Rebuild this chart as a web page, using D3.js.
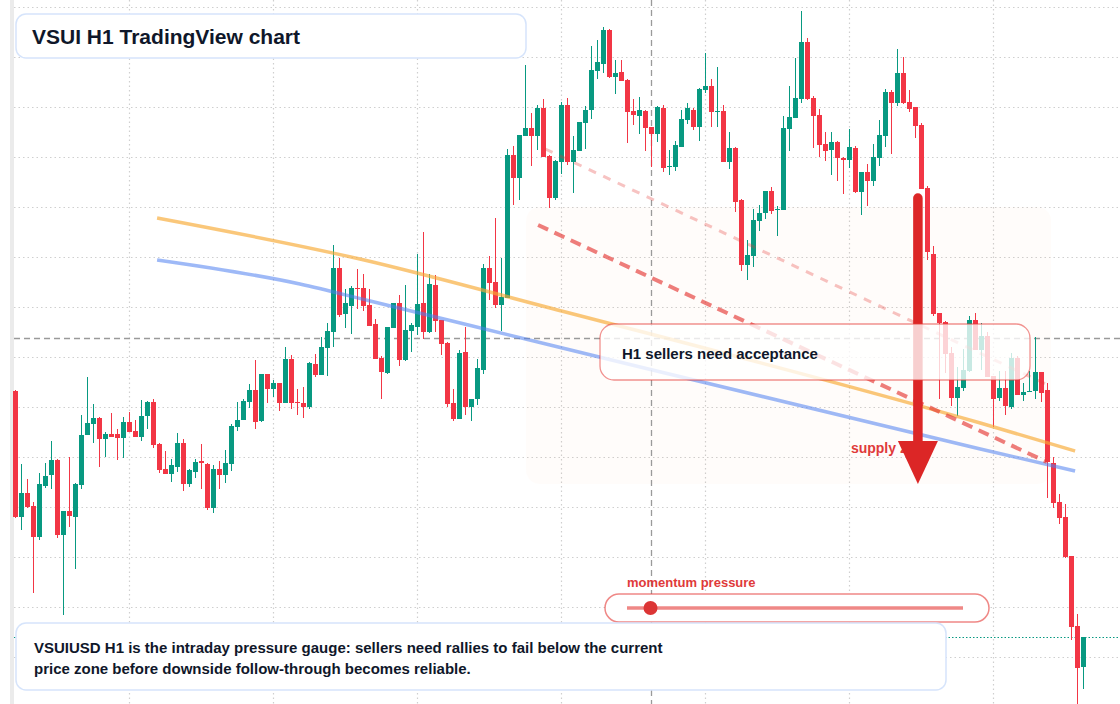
<!DOCTYPE html>
<html lang="en">
<head>
<meta charset="UTF-8">
<title>VSUI H1 TradingView chart</title>
<script src="https://cdn.jsdelivr.net/npm/d3@7"></script>
<style>
  html, body { margin: 0; padding: 0; background: #fff; }
  svg { display: block; font-family: "Liberation Sans", Arial, sans-serif; }
</style>
</head>
<body>
<script>
// hourly candles (one per bar, left to right)
const open = [
  0.616,0.490,0.514,0.501,0.470,0.521,0.532,0.547,0.472,0.496,
  0.490,0.522,0.572,0.583,0.589,0.568,0.573,0.573,0.569,0.585,
  0.576,0.570,0.591,0.605,0.563,0.538,0.533,0.540,0.564,0.523,
  0.535,0.546,0.543,0.499,0.538,0.532,0.543,0.580,0.587,0.605,
  0.617,0.586,0.633,0.618,0.624,0.604,0.648,0.605,0.604,0.600,
  0.643,0.632,0.659,0.675,0.739,0.693,0.701,0.719,0.719,0.702,
  0.683,0.649,0.634,0.679,0.704,0.647,0.676,0.680,0.704,0.675,
  0.722,0.687,0.664,0.604,0.588,0.655,0.600,0.608,0.637,0.739,
  0.725,0.702,0.709,0.852,0.829,0.871,0.879,0.871,0.899,0.851,
  0.809,0.845,0.902,0.845,0.856,0.884,0.897,0.936,0.943,0.977,
  0.930,0.935,0.927,0.896,0.891,0.896,0.880,0.873,0.899,0.840,
  0.840,0.860,0.887,0.897,0.880,0.917,0.921,0.895,0.896,0.845,
  0.859,0.807,0.742,0.751,0.786,0.794,0.816,0.797,0.797,0.878,
  0.889,0.908,0.965,0.909,0.892,0.863,0.857,0.865,0.849,0.847,
  0.859,0.815,0.835,0.826,0.849,0.871,0.915,0.904,0.934,0.905,
  0.900,0.882,0.819,0.753,0.694,0.685,0.654,0.609,0.619,0.636,
  0.687,0.657,0.671,0.631,0.609,0.619,0.600,0.649,0.612,0.615,
  0.616,0.635,0.617,0.544,0.505,0.490,0.451,0.381,0.340
]
const high = [
  0.617,0.543,0.528,0.505,0.534,0.544,0.566,0.548,0.496,0.550,
  0.524,0.592,0.630,0.603,0.590,0.575,0.594,0.578,0.590,0.595,
  0.587,0.607,0.606,0.608,0.564,0.556,0.548,0.574,0.568,0.538,
  0.548,0.563,0.544,0.542,0.546,0.557,0.583,0.605,0.608,0.623,
  0.647,0.633,0.633,0.627,0.624,0.660,0.652,0.618,0.620,0.645,
  0.653,0.670,0.684,0.762,0.749,0.718,0.721,0.738,0.733,0.718,
  0.688,0.651,0.680,0.704,0.712,0.722,0.684,0.753,0.775,0.733,
  0.732,0.687,0.665,0.618,0.657,0.680,0.608,0.648,0.743,0.751,
  0.789,0.749,0.858,0.861,0.872,0.942,0.894,0.902,0.908,0.852,
  0.847,0.905,0.909,0.871,0.885,0.901,0.961,0.967,0.980,0.978,
  0.947,0.947,0.928,0.908,0.910,0.897,0.880,0.901,0.902,0.857,
  0.866,0.897,0.904,0.899,0.919,0.954,0.928,0.940,0.902,0.875,
  0.860,0.808,0.767,0.798,0.802,0.816,0.820,0.801,0.891,0.921,
  0.949,0.996,0.969,0.911,0.898,0.875,0.875,0.866,0.850,0.878,
  0.861,0.835,0.843,0.863,0.887,0.918,0.917,0.958,0.950,0.917,
  0.900,0.884,0.821,0.761,0.694,0.686,0.660,0.640,0.658,0.691,
  0.694,0.684,0.675,0.631,0.636,0.636,0.654,0.651,0.624,0.636,
  0.670,0.635,0.624,0.550,0.513,0.503,0.451,0.393,0.370
]
const low = [
  0.489,0.477,0.499,0.414,0.467,0.519,0.518,0.469,0.392,0.480,
  0.438,0.518,0.572,0.564,0.540,0.550,0.570,0.547,0.549,0.575,
  0.570,0.566,0.578,0.559,0.534,0.533,0.525,0.535,0.516,0.520,
  0.529,0.518,0.497,0.494,0.518,0.524,0.536,0.576,0.587,0.599,
  0.578,0.585,0.604,0.610,0.596,0.604,0.598,0.592,0.589,0.598,
  0.630,0.632,0.631,0.660,0.690,0.679,0.673,0.698,0.696,0.681,
  0.648,0.608,0.633,0.679,0.641,0.646,0.655,0.672,0.668,0.674,
  0.675,0.652,0.600,0.586,0.588,0.592,0.586,0.602,0.633,0.707,
  0.699,0.676,0.709,0.802,0.807,0.871,0.841,0.857,0.850,0.799,
  0.807,0.833,0.842,0.814,0.856,0.858,0.888,0.928,0.934,0.929,
  0.913,0.926,0.864,0.882,0.873,0.856,0.840,0.865,0.835,0.832,
  0.836,0.860,0.883,0.877,0.866,0.914,0.880,0.880,0.845,0.838,
  0.795,0.736,0.727,0.740,0.776,0.788,0.793,0.771,0.797,0.856,
  0.889,0.904,0.907,0.859,0.850,0.846,0.832,0.826,0.813,0.839,
  0.814,0.792,0.801,0.821,0.841,0.860,0.853,0.901,0.903,0.895,
  0.869,0.818,0.747,0.691,0.608,0.634,0.601,0.591,0.616,0.635,
  0.657,0.637,0.630,0.580,0.606,0.592,0.598,0.612,0.606,0.615,
  0.608,0.605,0.509,0.499,0.483,0.449,0.367,0.303,0.318
]
const close = [
  0.490,0.514,0.500,0.470,0.523,0.531,0.547,0.472,0.496,0.491,
  0.523,0.572,0.584,0.589,0.568,0.573,0.570,0.569,0.585,0.575,
  0.570,0.591,0.605,0.562,0.537,0.533,0.542,0.564,0.523,0.537,
  0.545,0.544,0.499,0.538,0.532,0.544,0.581,0.587,0.606,0.617,
  0.585,0.633,0.618,0.624,0.604,0.648,0.604,0.604,0.600,0.644,
  0.632,0.660,0.676,0.739,0.692,0.704,0.719,0.718,0.701,0.681,
  0.648,0.635,0.680,0.704,0.647,0.677,0.682,0.703,0.675,0.723,
  0.686,0.663,0.603,0.588,0.654,0.600,0.608,0.639,0.739,0.724,
  0.702,0.710,0.852,0.829,0.872,0.879,0.871,0.899,0.850,0.809,
  0.846,0.902,0.845,0.857,0.885,0.897,0.937,0.945,0.977,0.930,
  0.934,0.926,0.895,0.892,0.897,0.879,0.873,0.900,0.839,0.841,
  0.862,0.888,0.899,0.880,0.918,0.921,0.895,0.896,0.845,0.859,
  0.805,0.742,0.752,0.787,0.794,0.816,0.796,0.798,0.879,0.890,
  0.909,0.965,0.908,0.891,0.862,0.856,0.865,0.849,0.847,0.860,
  0.815,0.835,0.826,0.850,0.872,0.915,0.904,0.934,0.904,0.898,
  0.881,0.818,0.755,0.693,0.684,0.653,0.609,0.620,0.637,0.687,
  0.657,0.671,0.630,0.608,0.619,0.601,0.649,0.612,0.615,0.616,
  0.635,0.614,0.545,0.504,0.489,0.450,0.380,0.339,0.370
]

// grid positions (price levels and bar indexes)
const priceGrid = [0.35, 0.40, 0.45, 0.50, 0.55, 0.60, 0.65, 0.70, 0.75, 0.80, 0.85, 0.90, 0.95, 1.00]
const timeGrid = [19, 43, 67, 91, 115, 139, 163]

// drawings: [bar index, price]
const orangeLine = [[23.6, 0.789], [57.4, 0.748], [89.1, 0.699], [160.8, 0.584], [176.6, 0.556]]
const blueLine = [[23.6, 0.747], [47.4, 0.723], [59.1, 0.706], [89.1, 0.662], [160.8, 0.558], [176.6, 0.536]]
const heavyDash = [[87.1, 0.782], [171.9, 0.545]]
const lightDash = [[88.3, 0.858], [172.4, 0.621]]
const zoneBars = [85.1, 172.6]
const zonePrices = [0.523, 0.800]
const arrowBar = 150.4
const arrowPrices = [0.814, 0.523]
const crossBar = 106
const crossPrice = 0.669
const momentum = 0.07

const title = 'VSUI H1 TradingView chart'
const callout = 'H1 sellers need acceptance'
const notes = [
  'VSUIUSD H1 is the intraday pressure gauge: sellers need rallies to fail below the current',
  'price zone before downside follow-through becomes reliable.'
]

const width = 1120
const height = 704
const up = '#089981'
const down = '#f23645'
const ink = '#0f172a'
const red = '#e03a3a'

const candles = open.map((o, i) => ({ i, o, h: high[i], l: low[i], c: close[i] }))

const x = d3.scaleLinear().domain([0, candles.length - 1]).range([15.5, 1083.5])
const y = d3.scaleLinear().domain([0.303, 1.007]).range([height, 0])
const crisp = (v) => Math.round(v) + 0.5

const svg = d3.select('body')
  .append('svg')
  .attr('width', width)
  .attr('height', height)

svg.append('rect')
  .attr('width', width)
  .attr('height', height)
  .attr('fill', '#fff')

// left edge strip
svg.append('rect')
  .attr('x', 10)
  .attr('width', 4)
  .attr('height', height)
  .attr('fill', '#ebebeb')

// grid
const grid = svg.append('g')
  .attr('stroke', '#cfcfcf')
  .attr('stroke-width', 1.2)
  .attr('stroke-dasharray', '1.5 3')

grid.selectAll('.hgrid')
  .data(priceGrid)
  .enter()
  .append('line')
  .attr('x1', 14)
  .attr('x2', width)
  .attr('y1', (d) => crisp(y(d)))
  .attr('y2', (d) => crisp(y(d)))

grid.selectAll('.vgrid')
  .data(timeGrid)
  .enter()
  .append('line')
  .attr('x1', (d) => x(d))
  .attr('x2', (d) => x(d))
  .attr('y1', 0)
  .attr('y2', height)

// supply zone (very faint)
svg.append('rect')
  .attr('x', x(zoneBars[0]))
  .attr('y', y(zonePrices[1]))
  .attr('width', x(zoneBars[1]) - x(zoneBars[0]))
  .attr('height', y(zonePrices[0]) - y(zonePrices[1]))
  .attr('rx', 14)
  .attr('fill', '#f59e6b')
  .attr('fill-opacity', 0.035)

// crosshair + last price
svg.append('line')
  .attr('x1', 14).attr('x2', width)
  .attr('y1', crisp(y(crossPrice))).attr('y2', crisp(y(crossPrice)))
  .attr('stroke', '#9a9a9a')
  .attr('stroke-width', 1.3)
  .attr('stroke-dasharray', '6 4')

svg.append('line')
  .attr('x1', x(crossBar)).attr('x2', x(crossBar))
  .attr('y1', 0).attr('y2', height)
  .attr('stroke', '#9a9a9a')
  .attr('stroke-width', 1.3)
  .attr('stroke-dasharray', '6 4')

const last = close[close.length - 1]
svg.append('line')
  .attr('x1', 14).attr('x2', width)
  .attr('y1', crisp(y(last))).attr('y2', crisp(y(last)))
  .attr('stroke', up)
  .attr('stroke-width', 1.2)
  .attr('stroke-dasharray', '1.5 2')

// candles
const bars = svg.append('g')
  .selectAll('g')
  .data(candles)
  .enter()
  .append('g')
  .attr('fill', (d) => d.c >= d.o ? up : down)
  .attr('stroke', (d) => d.c >= d.o ? up : down)

bars.append('line')
  .attr('x1', (d) => x(d.i))
  .attr('x2', (d) => x(d.i))
  .attr('y1', (d) => y(d.h))
  .attr('y2', (d) => y(d.l))
  .attr('stroke-width', 1)

bars.append('rect')
  .attr('x', (d) => x(d.i) - 2.5)
  .attr('width', 5)
  .attr('y', (d) => y(Math.max(d.o, d.c)))
  .attr('height', (d) => Math.max(1, Math.abs(y(d.o) - y(d.c))))
  .attr('stroke', 'none')

// trend lines
const curve = d3.line()
  .x((d) => x(d[0]))
  .y((d) => y(d[1]))
  .curve(d3.curveMonotoneX)

svg.append('path')
  .attr('d', curve(orangeLine))
  .attr('fill', 'none')
  .attr('stroke', '#f7a933')
  .attr('stroke-opacity', 0.65)
  .attr('stroke-width', 3.5)

svg.append('path')
  .attr('d', curve(blueLine))
  .attr('fill', 'none')
  .attr('stroke', '#4f7ff0')
  .attr('stroke-opacity', 0.55)
  .attr('stroke-width', 3.5)

svg.append('path')
  .attr('d', curve(lightDash))
  .attr('fill', 'none')
  .attr('stroke', '#e53935')
  .attr('stroke-opacity', 0.3)
  .attr('stroke-width', 3)
  .attr('stroke-dasharray', '8 8')

svg.append('path')
  .attr('d', curve(heavyDash))
  .attr('fill', 'none')
  .attr('stroke', '#e53935')
  .attr('stroke-opacity', 0.65)
  .attr('stroke-width', 4)
  .attr('stroke-dasharray', '11 7')

// supply zone label, then the arrow over it
const ax = x(arrowBar)
const tipY = y(arrowPrices[1])

svg.append('text')
  .attr('x', ax - 67)
  .attr('y', tipY - 31)
  .attr('fill', red)
  .attr('font-size', 14)
  .attr('font-weight', 'bold')
  .text('supply zone')

svg.append('line')
  .attr('x1', ax).attr('x2', ax)
  .attr('y1', y(arrowPrices[0]) + 5)
  .attr('y2', tipY - 40)
  .attr('stroke', '#dc2626')
  .attr('stroke-width', 9.5)
  .attr('stroke-linecap', 'round')

svg.append('path')
  .attr('d', `M${ax - 20},${tipY - 43}L${ax + 20},${tipY - 43}L${ax},${tipY}Z`)
  .attr('fill', '#dc2626')

// callout
svg.append('rect')
  .attr('x', 600).attr('y', 324)
  .attr('width', 430).attr('height', 56)
  .attr('rx', 14)
  .attr('fill', '#fff')
  .attr('fill-opacity', 0.78)
  .attr('stroke', '#e53935')
  .attr('stroke-opacity', 0.55)
  .attr('stroke-width', 1.3)

svg.append('text')
  .attr('x', 622).attr('y', 359)
  .attr('fill', ink)
  .attr('font-size', 15)
  .attr('font-weight', 'bold')
  .text(callout)

// title
svg.append('rect')
  .attr('x', 16).attr('y', 14)
  .attr('width', 510).attr('height', 44)
  .attr('rx', 10)
  .attr('fill', '#fff')
  .attr('stroke', '#d6e4fb')
  .attr('stroke-width', 1.5)

svg.append('text')
  .attr('x', 32).attr('y', 44)
  .attr('fill', ink)
  .attr('font-size', 21)
  .attr('font-weight', 'bold')
  .text(title)

// momentum gauge
const gauge = d3.scaleLinear().domain([0, 1]).range([627, 963])

svg.append('text')
  .attr('x', 627).attr('y', 587)
  .attr('fill', red)
  .attr('font-size', 13)
  .attr('font-weight', 'bold')
  .text('momentum pressure')

svg.append('rect')
  .attr('x', 605).attr('y', 594)
  .attr('width', 384).attr('height', 28)
  .attr('rx', 14)
  .attr('fill', '#fff')
  .attr('stroke', '#e53935')
  .attr('stroke-opacity', 0.6)
  .attr('stroke-width', 1.5)

svg.append('line')
  .attr('x1', gauge(0)).attr('x2', gauge(1))
  .attr('y1', 608).attr('y2', 608)
  .attr('stroke', '#e53935')
  .attr('stroke-opacity', 0.6)
  .attr('stroke-width', 3.5)

svg.append('circle')
  .attr('cx', gauge(momentum))
  .attr('cy', 608)
  .attr('r', 7)
  .attr('fill', '#dc3535')

// notes box
svg.append('rect')
  .attr('x', 16).attr('y', 623)
  .attr('width', 930).attr('height', 67)
  .attr('rx', 10)
  .attr('fill', '#fff')
  .attr('stroke', '#d6e4fb')
  .attr('stroke-width', 1.5)

svg.append('text')
  .attr('fill', ink)
  .attr('font-size', 15)
  .attr('font-weight', 'bold')
  .selectAll('tspan')
  .data(notes)
  .enter()
  .append('tspan')
  .attr('x', 34)
  .attr('y', (d, i) => 653 + i * 21)
  .text((d) => d)
</script>
</body>
</html>
